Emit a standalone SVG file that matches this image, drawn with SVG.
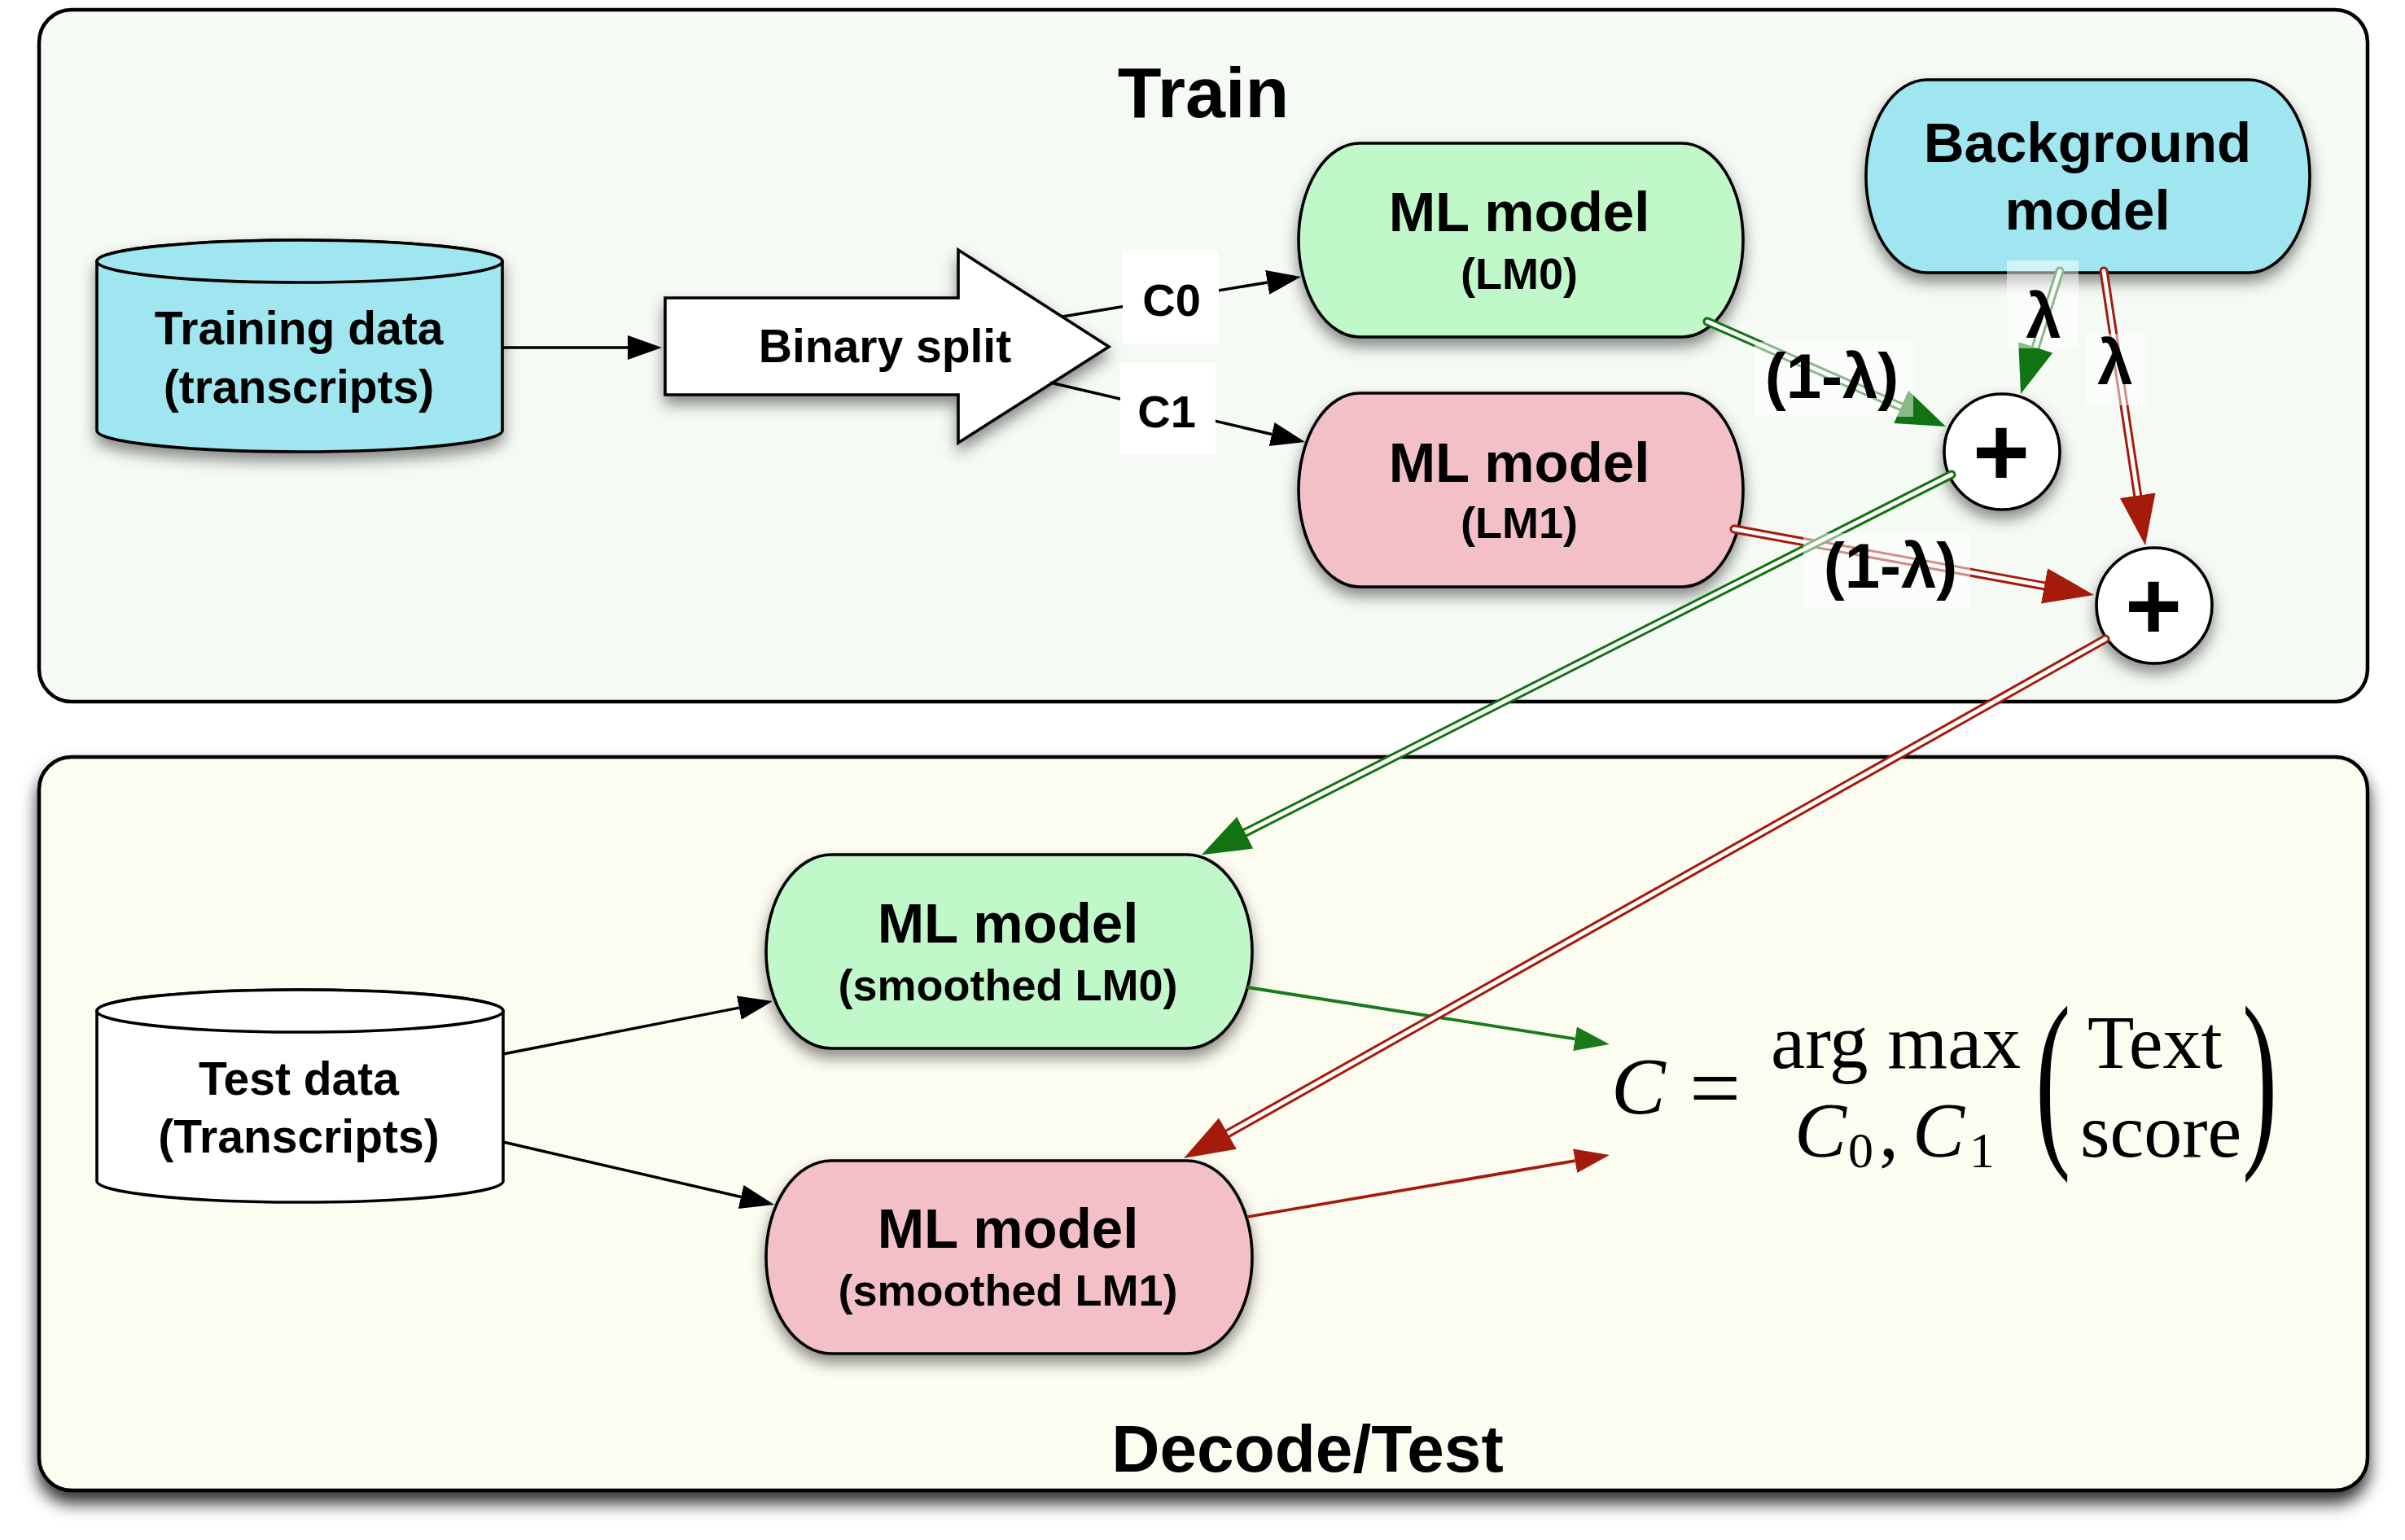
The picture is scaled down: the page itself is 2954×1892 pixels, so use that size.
<svg xmlns="http://www.w3.org/2000/svg" width="2954" height="1892" viewBox="0 0 2954 1892">
<defs>
<style>
.panel{stroke:#000;stroke-width:4.5}
.node{stroke:#000;stroke-width:3.6}
.sans{font-family:"Liberation Sans",Arial,sans-serif;font-weight:bold;fill:#000;text-anchor:middle}
.serif{font-family:"Liberation Serif","Times New Roman",serif;fill:#000}
.big{font-size:69px}
.sub{font-size:54px}
.mid{font-size:57px}
.lam{font-size:78px}
.blk{stroke:#000;stroke-width:3.5;fill:none}
.gs{stroke:#1a7a1a;stroke-width:3.8;fill:none}
.rs{stroke:#a51b0b;stroke-width:3.8;fill:none}
.dg{stroke:#127312;stroke-width:11;fill:none;stroke-linecap:round}
.dr{stroke:#a51b0b;stroke-width:11;fill:none;stroke-linecap:round}
.din{stroke:#fff;stroke-width:5;fill:none;stroke-linecap:round}
.lbox{fill:#fff;fill-opacity:0.5}
</style>
<filter id="sh" x="-20%" y="-20%" width="140%" height="160%">
<feDropShadow dx="0" dy="10" stdDeviation="9" flood-color="#000" flood-opacity="0.45"/>
</filter>
<filter id="psh" x="-5%" y="-5%" width="110%" height="115%">
<feDropShadow dx="0" dy="14" stdDeviation="10" flood-color="#000" flood-opacity="0.8"/>
</filter>
<marker id="aB" markerUnits="userSpaceOnUse" markerWidth="50" markerHeight="40" viewBox="0 -20 50 40" refX="0" refY="0" orient="auto"><path d="M0,-15 L42,0 L0,15 Z" fill="#000"/></marker>
<marker id="aGs" markerUnits="userSpaceOnUse" markerWidth="50" markerHeight="40" viewBox="0 -20 50 40" refX="0" refY="0" orient="auto"><path d="M0,-15 L43,0 L0,15 Z" fill="#1a7a1a"/></marker>
<marker id="aRs" markerUnits="userSpaceOnUse" markerWidth="50" markerHeight="40" viewBox="0 -20 50 40" refX="0" refY="0" orient="auto"><path d="M0,-15 L43,0 L0,15 Z" fill="#a51b0b"/></marker>
<marker id="aG" markerUnits="userSpaceOnUse" markerWidth="70" markerHeight="50" viewBox="0 -25 70 50" refX="0" refY="0" orient="auto"><path d="M0,-22 L60,0 L0,22 Z" fill="#127312"/></marker>
<marker id="aR" markerUnits="userSpaceOnUse" markerWidth="70" markerHeight="50" viewBox="0 -25 70 50" refX="0" refY="0" orient="auto"><path d="M0,-22 L62,0 L0,22 Z" fill="#a51b0b"/></marker>
</defs>
<rect width="2954" height="1892" fill="#fff"/>

<g id="panel-train">
<rect class="panel" x="48" y="12" width="2860" height="850" rx="40" ry="40" fill="#f5faf4"/>
<text class="sans" x="1478" y="144" font-size="88">Train</text>
</g>
<g id="panel-decode">
<rect class="panel" x="48" y="930" width="2860" height="901" rx="40" ry="40" fill="#fdfcf1" filter="url(#psh)"/>
<text class="sans" x="1606" y="1808" font-size="82">Decode/Test</text>
</g>

<g id="node-training-data" filter="url(#sh)">
<path class="node" fill="#a0e6f0" d="M119,321 L119,529 A249,26 0 0 0 617,529 L617,321 A249,26 0 0 0 119,321 Z"/>
<ellipse class="node" cx="368" cy="321" rx="249" ry="26" fill="#a0e6f0"/>
<text class="sans mid" x="367" y="423">Training data</text>
<text class="sans mid" x="367" y="495">(transcripts)</text>
</g>

<g id="node-binary-split" filter="url(#sh)">
<polygon class="node" fill="#fff" points="817,366 1177,366 1177,307 1362,426 1177,544 1177,485 817,485"/>
<text class="sans mid" x="1087" y="445">Binary split</text>
</g>

<g id="node-lm0" filter="url(#sh)">
<rect class="node" x="1595" y="176" width="546" height="238" rx="75" ry="119" fill="#c1f8c9"/>
<text class="sans big" x="1866" y="284">ML model</text>
<text class="sans sub" x="1866" y="355">(LM0)</text>
</g>
<g id="node-lm1" filter="url(#sh)">
<rect class="node" x="1595" y="483" width="546" height="238" rx="75" ry="119" fill="#f3c0c8"/>
<text class="sans big" x="1866" y="592">ML model</text>
<text class="sans sub" x="1866" y="661">(LM1)</text>
</g>
<g id="node-background" filter="url(#sh)">
<rect class="node" x="2292" y="98" width="545" height="237" rx="75" ry="118" fill="#a0e6f0"/>
<text class="sans big" x="2564" y="199">Background</text>
<text class="sans big" x="2564" y="282">model</text>
</g>
<g id="node-plus0" filter="url(#sh)">
<circle class="node" cx="2459" cy="555" r="71" fill="#fff"/>
<text class="sans" x="2458" y="597" font-size="120">+</text>
</g>
<g id="node-plus1" filter="url(#sh)">
<circle class="node" cx="2646" cy="744" r="71" fill="#fff"/>
<text class="sans" x="2645" y="786" font-size="120">+</text>
</g>

<g id="node-test-data">
<path class="node" fill="#fff" d="M119,1242 L119,1451 A249.5,26 0 0 0 618,1451 L618,1242 A249.5,26 0 0 0 119,1242 Z"/>
<ellipse class="node" cx="368.5" cy="1242" rx="249.5" ry="26" fill="#fff"/>
<text class="sans mid" x="367" y="1345">Test data</text>
<text class="sans mid" x="367" y="1416">(Transcripts)</text>
</g>

<g id="node-slm0" filter="url(#sh)">
<rect class="node" x="941" y="1050" width="597" height="238" rx="80" ry="119" fill="#c1f8c9"/>
<text class="sans big" x="1238" y="1158">ML model</text>
<text class="sans sub" x="1238" y="1229">(smoothed LM0)</text>
</g>
<g id="node-slm1" filter="url(#sh)">
<rect class="node" x="941" y="1426" width="597" height="237" rx="80" ry="118" fill="#f3c0c8"/>
<text class="sans big" x="1238" y="1533">ML model</text>
<text class="sans sub" x="1238" y="1604">(smoothed LM1)</text>
</g>

<g id="formula">
<text class="serif" x="1979" y="1368" font-size="100" font-style="italic">C</text>
<text class="serif" x="2075" y="1374" font-size="112">=</text>
<text class="serif" x="2175" y="1312" font-size="95">arg max</text>
<text class="serif" x="2204" y="1421" font-size="96" font-style="italic">C</text>
<text class="serif" x="2270" y="1434" font-size="62">0</text>
<text class="serif" x="2308" y="1421" font-size="96">,</text>
<text class="serif" x="2349" y="1421" font-size="96" font-style="italic">C</text>
<text class="serif" x="2419" y="1434" font-size="62">1</text>
<text class="serif" transform="translate(2500,1402) scale(1.3,2.4)" font-size="100">(</text>
<text class="serif" x="2564" y="1312" font-size="94">Text</text>
<text class="serif" x="2555" y="1421" font-size="94">score</text>
<text class="serif" transform="translate(2754,1402) scale(1.3,2.4)" font-size="100">)</text>
</g>

<g id="connectors">
<path class="blk" d="M617,427 L771,427" marker-end="url(#aB)"/>
<path class="blk" d="M1305,389 L1556.6,346.9" marker-end="url(#aB)"/>
<path class="blk" d="M1290,470 L1562.1,533.5" marker-end="url(#aB)"/>
<path class="blk" d="M618,1295 L907.8,1238.1" marker-end="url(#aB)"/>
<path class="blk" d="M618,1403 L910.1,1470.5" marker-end="url(#aB)"/>
<path class="gs" d="M1532,1213 L1934.5,1276.3" marker-end="url(#aGs)"/>
<path class="rs" d="M1532,1495 L1934.6,1426.2" marker-end="url(#aRs)"/>

<path class="dg" d="M2097,395 L2335.1,499.8"/>
<path class="din" d="M2097,395 L2335.1,499.8" marker-end="url(#aG)"/>
<path class="dg" d="M2530,333 L2500.2,426.8"/>
<path class="din" d="M2530,333 L2500.2,426.8" marker-end="url(#aG)"/>
<path class="dr" d="M2584,333 L2625.7,608.7"/>
<path class="din" d="M2584,333 L2625.7,608.7" marker-end="url(#aR)"/>
<path class="dr" d="M2130,650 L2511,719.8"/>
<path class="din" d="M2130,650 L2511,719.8" marker-end="url(#aR)"/>
<path class="dg" d="M2397,583 L1529.3,1023"/>
<path class="din" d="M2397,583 L1529.3,1023" marker-end="url(#aG)"/>
<path class="dr" d="M2586,785 L1508,1392.6"/>
<path class="din" d="M2586,785 L1508,1392.6" marker-end="url(#aR)"/>
</g>

<g id="labels">
<rect x="1379" y="307" width="118" height="115" fill="#fff"/>
<text class="sans" x="1439" y="388" font-size="56">C0</text>
<rect x="1376" y="446" width="117" height="113" fill="#fff"/>
<text class="sans" x="1433" y="525" font-size="56">C1</text>
<rect class="lbox" x="2155" y="420" width="195" height="92"/>
<text class="sans lam" x="2250" y="489">(1-λ)</text>
<rect class="lbox" x="2215" y="655" width="205" height="92"/>
<text class="sans lam" x="2322" y="722">(1-λ)</text>
<rect class="lbox" x="2465" y="320" width="88" height="108"/>
<text class="sans lam" x="2510" y="415">λ</text>
<rect class="lbox" x="2562" y="410" width="76" height="88"/>
<text class="sans lam" x="2598" y="472">λ</text>
</g>
</svg>
